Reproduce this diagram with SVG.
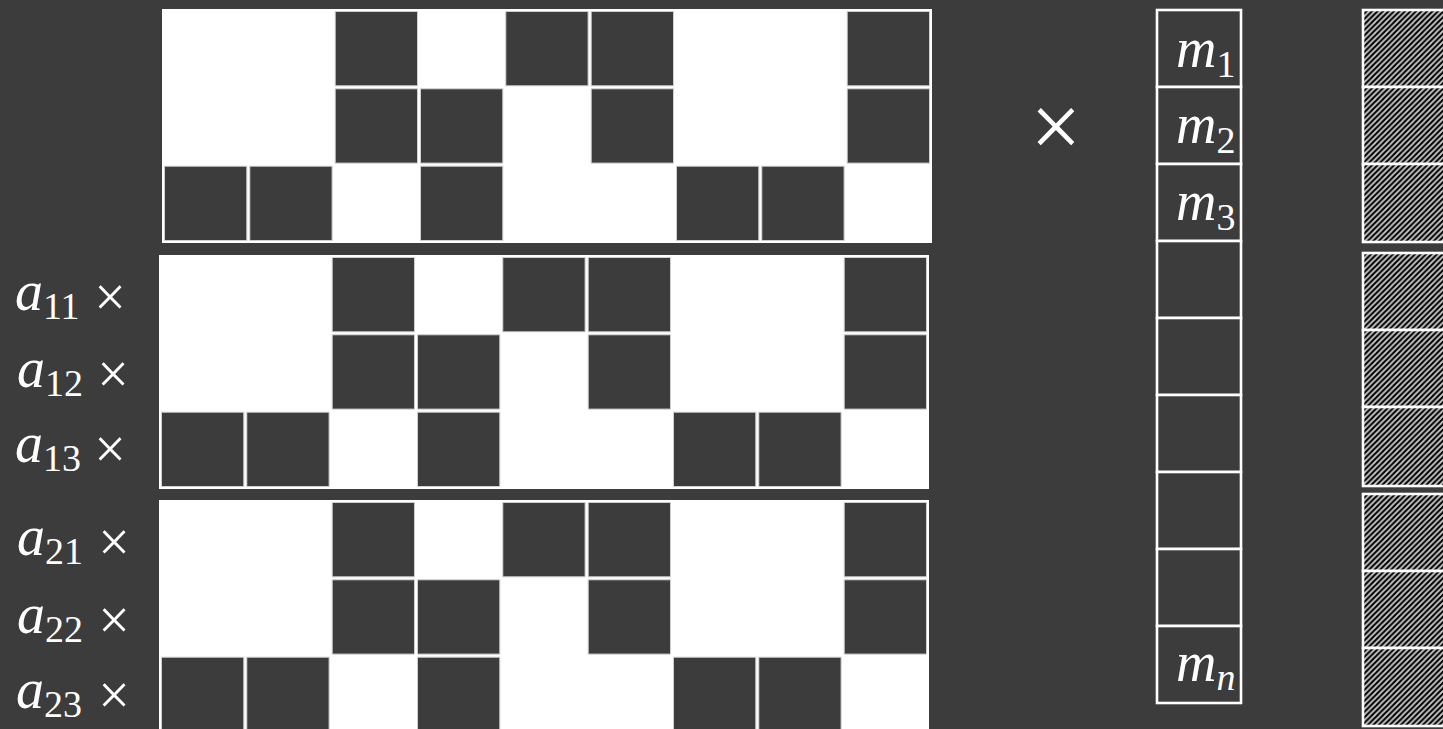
<svg xmlns="http://www.w3.org/2000/svg" width="1443" height="729" viewBox="0 0 1443 729">
<defs>
<style>
.bg{fill:#3c3c3c}
.mat{fill:#ffffff;stroke:#ffffff;stroke-width:2}
.d{fill:#3c3c3c;stroke:#cfcfcf;stroke-width:1}
.mc{fill:#3c3c3c;stroke:#ffffff;stroke-width:2.6}
.hc{fill:url(#hatch);stroke:#ffffff;stroke-width:2.6}
.lbl{font-family:"Liberation Serif",serif;font-style:italic;font-size:56px;fill:#ffffff}
.sub{font-style:normal;font-size:38px}
.subi{font-style:italic;font-size:38px}
.times{font-family:"Liberation Serif",serif;font-size:56px;fill:#ffffff;text-anchor:middle}
</style>
<pattern id="hatch" patternUnits="userSpaceOnUse" width="5.5" height="5.5">
<rect width="5.5" height="5.5" fill="#000000"/>
<path d="M-1,6.5 L6.5,-1 M-1,1 L1,-1 M4.5,6.5 L6.5,4.5" stroke="#c8c8c8" stroke-width="1.8"/>
</pattern>
<g id="cells">
<rect class="mat" x="0" y="0" width="768" height="232"/>
<rect class="d" x="172.2" y="1.5" width="82.3" height="74.3"/>
<rect class="d" x="342.8" y="1.5" width="82.3" height="74.3"/>
<rect class="d" x="428.2" y="1.5" width="82.3" height="74.3"/>
<rect class="d" x="684.2" y="1.5" width="82.3" height="74.3"/>
<rect class="d" x="172.2" y="78.8" width="82.3" height="74.3"/>
<rect class="d" x="257.5" y="78.8" width="82.3" height="74.3"/>
<rect class="d" x="428.2" y="78.8" width="82.3" height="74.3"/>
<rect class="d" x="684.2" y="78.8" width="82.3" height="74.3"/>
<rect class="d" x="1.5" y="156.2" width="82.3" height="74.3"/>
<rect class="d" x="86.8" y="156.2" width="82.3" height="74.3"/>
<rect class="d" x="257.5" y="156.2" width="82.3" height="74.3"/>
<rect class="d" x="513.5" y="156.2" width="82.3" height="74.3"/>
<rect class="d" x="598.8" y="156.2" width="82.3" height="74.3"/>
</g>
</defs>
<rect class="bg" x="0" y="0" width="1443" height="729"/>

<g id="matrix1"><use href="#cells" x="163" y="10"/></g>
<g id="matrix2"><use href="#cells" x="160" y="256"/></g>
<g id="matrix3"><use href="#cells" x="160" y="501"/></g>

<g id="labels-a">
<text class="lbl" x="15" y="310">a<tspan class="sub" dy="9">11</tspan></text>
<text class="times" x="110" y="316">×</text>
<text class="lbl" x="17" y="387">a<tspan class="sub" dy="9">12</tspan></text>
<text class="times" x="113" y="393">×</text>
<text class="lbl" x="15" y="462">a<tspan class="sub" dy="9">13</tspan></text>
<text class="times" x="110" y="468">×</text>
<text class="lbl" x="17" y="555">a<tspan class="sub" dy="9">21</tspan></text>
<text class="times" x="114" y="561">×</text>
<text class="lbl" x="17" y="633">a<tspan class="sub" dy="9">22</tspan></text>
<text class="times" x="114" y="639">×</text>
<text class="lbl" x="16" y="708">a<tspan class="sub" dy="9">23</tspan></text>
<text class="times" x="114" y="714">×</text>
</g>

<g id="times-big"><text class="times" x="1056" y="157" style="font-size:90px">×</text></g>

<g id="vector-m">
<rect class="mc" x="1157" y="10" width="84" height="77"/>
<rect class="mc" x="1157" y="87" width="84" height="77"/>
<rect class="mc" x="1157" y="164" width="84" height="77"/>
<rect class="mc" x="1157" y="241" width="84" height="77"/>
<rect class="mc" x="1157" y="318" width="84" height="77"/>
<rect class="mc" x="1157" y="395" width="84" height="77"/>
<rect class="mc" x="1157" y="472" width="84" height="77"/>
<rect class="mc" x="1157" y="549" width="84" height="77"/>
<rect class="mc" x="1157" y="626" width="84" height="77"/>
<text class="lbl" x="1176" y="67">m<tspan class="sub" dy="10">1</tspan></text>
<text class="lbl" x="1176" y="143">m<tspan class="sub" dy="10">2</tspan></text>
<text class="lbl" x="1176" y="220">m<tspan class="sub" dy="10">3</tspan></text>
<text class="lbl" x="1176" y="681">m<tspan class="subi" dy="9">n</tspan></text>
</g>

<g id="result">
<rect class="hc" x="1363" y="10" width="100" height="77"/>
<rect class="hc" x="1363" y="87" width="100" height="77"/>
<rect class="hc" x="1363" y="164" width="100" height="78"/>
<rect class="hc" x="1363" y="253" width="100" height="77"/>
<rect class="hc" x="1363" y="330" width="100" height="77"/>
<rect class="hc" x="1363" y="407" width="100" height="79"/>
<rect class="hc" x="1363" y="494" width="100" height="77"/>
<rect class="hc" x="1363" y="571" width="100" height="77"/>
<rect class="hc" x="1363" y="648" width="100" height="78"/>
</g>
</svg>
